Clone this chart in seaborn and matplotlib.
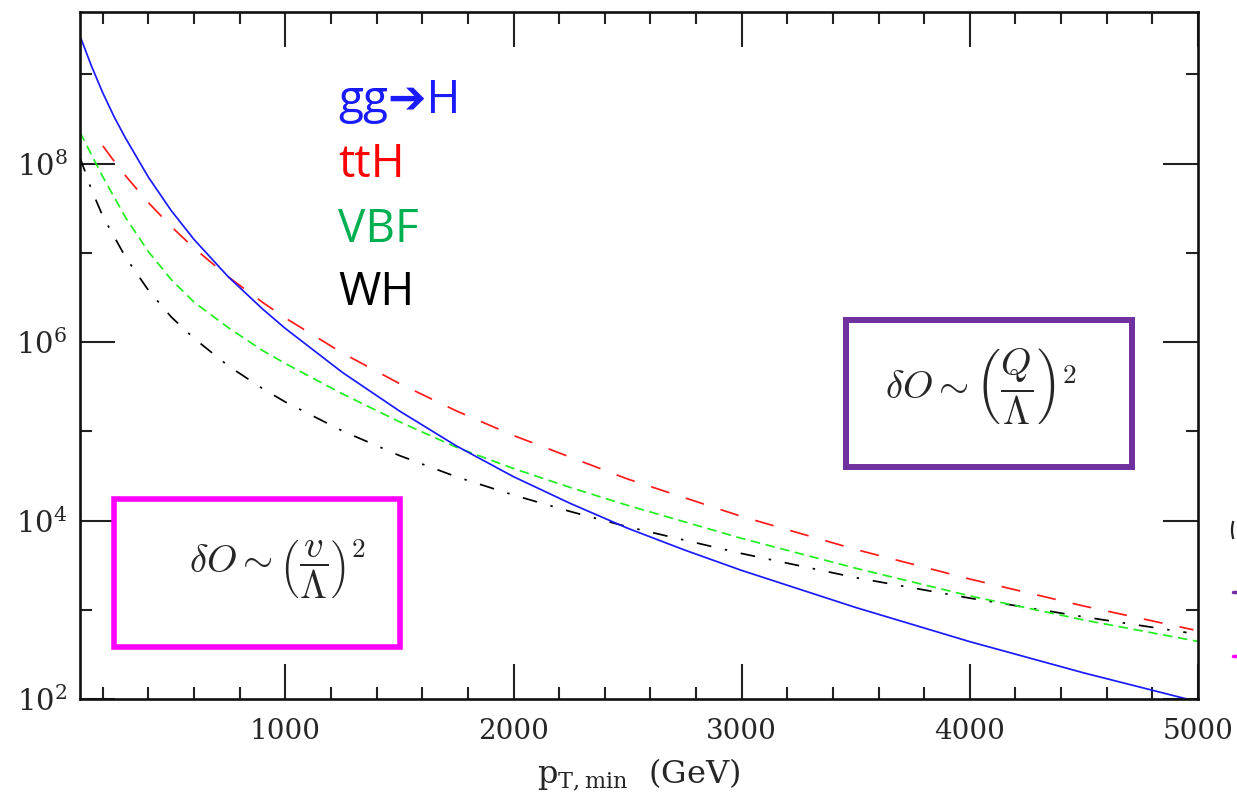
import numpy as np
import pandas as pd
import matplotlib
matplotlib.use("Agg")
import matplotlib.pyplot as plt
from matplotlib.patches import Rectangle, Arc
from matplotlib.lines import Line2D
from matplotlib.ticker import FixedLocator, LogFormatterSciNotation, NullFormatter
import seaborn as sns

# ---- cross sections above p_T,min (arbitrary units) ----
pt_ggh = [100, 150, 200, 250, 300, 400, 500, 600, 750, 900, 1000, 1250, 1500,
          1750, 2000, 2250, 2500, 2750, 3000, 3500, 4000, 4500, 5000]
sig_ggh = [2.69e9, 1.245e9, 6.19e8, 3.33e8, 1.92e8, 7.03e7, 2.97e7, 1.41e7,
           5.38e6, 2.35e6, 1.42e6, 4.57e5, 1.69e5, 6.85e4, 3.10e4, 1.55e4,
           8.2e3, 4.67e3, 2.76e3, 1.06e3, 439, 196, 93]

pt_tth = [200, 250, 300, 400, 500, 600, 750, 900, 1000, 1250, 1500, 1750,
          2000, 2500, 3000, 3500, 4000, 4500, 4980]
sig_tth = [1.58e8, 1.06e8, 7.28e7, 3.65e7, 1.97e7, 1.13e7, 5.38e6, 2.79e6,
           1.86e6, 7.54e5, 3.43e5, 1.69e5, 8.97e4, 2.92e4, 1.11e4, 4.74e3,
           2.21e3, 1.10e3, 596]

pt_vbf = [100, 200, 300, 400, 500, 600, 750, 900, 1000, 1250, 1500, 1750,
          2000, 2250, 2500, 3000, 3500, 4000, 4500, 5000]
sig_vbf = [2.24e8, 7.11e7, 2.48e7, 1.03e7, 5.01e6, 2.80e6, 1.45e6, 8.04e5,
           5.75e5, 2.63e5, 1.28e5, 6.61e4, 3.83e4, 2.34e4, 1.48e4, 6.31e3,
           2.92e3, 1.43e3, 767, 442]

pt_wh = [100, 150, 200, 300, 400, 500, 600, 750, 900, 1000, 1250, 1500, 1750,
         2000, 2250, 2500, 3000, 3500, 4000, 4500, 4950]
sig_wh = [1.17e8, 5.13e7, 2.57e7, 8.91e6, 3.80e6, 1.91e6, 1.10e6, 5.41e5,
          3.01e5, 2.13e5, 1.01e5, 5.35e4, 3.09e4, 1.93e4, 1.26e4, 8.51e3,
          4.27e3, 2.29e3, 1.35e3, 832, 556]

channel_labels = ["gg\u2794H", "ttH", "VBF", "WH"]
channel_text_colors = ["#1a1aff", "#ff0000", "#00b050", "#000000"]

x_major = [1000, 2000, 3000, 4000, 5000]
x_minor = [200, 400, 600, 800, 1200, 1400, 1600, 1800, 2200, 2400, 2600, 2800,
           3200, 3400, 3600, 3800, 4200, 4400, 4600, 4800]
y_major = [1e2, 1e4, 1e6, 1e8]
y_minor = [1e3, 1e5, 1e7, 1e9]

formula_q = r"$\delta O \sim \left(\dfrac{Q}{\Lambda}\right)^2$"
formula_v = r"$\delta O \sim \left(\dfrac{v}{\Lambda}\right)^2$"
x_title = r"$\mathrm{p_{T,min}}$  (GeV)"

# ---- style ----
sns.set_style("ticks")
plt.rcParams["font.family"] = ["DejaVu Serif"]
plt.rcParams["mathtext.fontset"] = "dejavuserif"
plt.rcParams["lines.scale_dashes"] = True

W, H = 1237, 801
fig = plt.figure(figsize=(W / 100, H / 100), dpi=100)
fig.patch.set_facecolor("white")
ax = fig.add_axes([80 / W, 1 - 699 / H, (1198 - 80) / W, (699 - 12) / H])

def fx(px):
    return px / W

def fy(py):
    return 1 - py / H

lw = 1.25
frames = {
    "ggh": pd.DataFrame({"pt": pt_ggh, "sigma": sig_ggh}),
    "tth": pd.DataFrame({"pt": pt_tth, "sigma": sig_tth}),
    "vbf": pd.DataFrame({"pt": pt_vbf, "sigma": sig_vbf}),
    "wh": pd.DataFrame({"pt": pt_wh, "sigma": sig_wh}),
}
sns.lineplot(data=frames["wh"], x="pt", y="sigma", ax=ax, color="black",
             lw=lw, linestyle=(0, (8.5, 8, 1.4, 8)))
sns.lineplot(data=frames["vbf"], x="pt", y="sigma", ax=ax, color="#22ee22",
             lw=lw, linestyle=(0, (5.5, 3.2)))
sns.lineplot(data=frames["tth"], x="pt", y="sigma", ax=ax, color="#ff1a1a",
             lw=lw, linestyle=(0, (11, 10)))
sns.lineplot(data=frames["ggh"], x="pt", y="sigma", ax=ax, color="#1a1aff",
             lw=lw, linestyle="-")

ax.set_yscale("log")
ax.set_xlim(100, 5000)
ax.set_ylim(1e2, 5e9)

ax.xaxis.set_major_locator(FixedLocator(x_major))
ax.xaxis.set_minor_locator(FixedLocator(x_minor))
ax.yaxis.set_major_locator(FixedLocator(y_major))
ax.yaxis.set_minor_locator(FixedLocator(y_minor))
ax.yaxis.set_major_formatter(LogFormatterSciNotation())
ax.yaxis.set_minor_formatter(NullFormatter())

ax.tick_params(which="both", direction="in", top=True, right=True,
               width=1.5, color="#222222")
ax.tick_params(which="major", length=25)
ax.tick_params(which="minor", length=8.5)
ax.tick_params(axis="x", which="major", labelsize=20, pad=14)
ax.tick_params(axis="y", which="major", labelsize=21, pad=9)
for s in ax.spines.values():
    s.set_linewidth(1.9)
    s.set_color("#111111")

ax.set_xlabel(x_title, fontsize=23, labelpad=8)
ax.set_ylabel("")

# ---- channel labels ----
baselines = [113, 177, 242, 305]
for lab, col, by in zip(channel_labels, channel_text_colors, baselines):
    fig.text(fx(338), fy(by), lab, color=col, fontsize=33,
             family=["Open Sans", "DejaVu Sans"], va="baseline", ha="left")

# ---- boxed scaling estimates ----
fig.patches.append(Rectangle((fx(846), fy(467)), (1132 - 846) / W, (467 - 320) / H,
                             transform=fig.transFigure, facecolor="white",
                             edgecolor="#7030a0", lw=4.3, zorder=5))
fig.patches.append(Rectangle((fx(114), fy(647)), (400 - 114) / W, (647 - 499) / H,
                             transform=fig.transFigure, facecolor="white",
                             edgecolor="#ff00ff", lw=4.0, zorder=5))
fig.text(fx(981), fy(386), formula_q, fontsize=28, ha="center", va="center",
         math_fontfamily="cm", zorder=6)
fig.text(fx(277), fy(569), formula_v, fontsize=28, ha="center", va="center",
         math_fontfamily="cm", zorder=6)

# ---- pieces of the neighbouring key at the right edge ----
fig.patches.append(Arc((fx(1245), fy(530)), 26 / W, 40 / H, theta1=130, theta2=230,
                       transform=fig.transFigure, color="#222222", lw=1.6))
fig.lines.append(Line2D([fx(1233), fx(1240)], [fy(592), fy(592)],
                        transform=fig.transFigure, color="#7030a0", lw=2.5))
fig.lines.append(Line2D([fx(1233), fx(1240)], [fy(656), fy(656)],
                        transform=fig.transFigure, color="#ff00ff", lw=2.5))

fig.savefig("out.png", dpi=100, facecolor="white")
